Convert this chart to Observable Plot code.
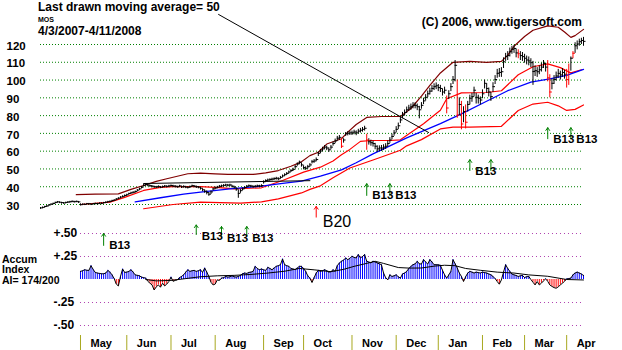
<!DOCTYPE html>
<html><head><meta charset="utf-8">
<script src="https://cdn.jsdelivr.net/npm/d3@7"></script>
<script src="https://cdn.jsdelivr.net/npm/@observablehq/plot@0.6"></script>
<style>
html,body{margin:0;padding:0;background:#fff;}
#wrap{position:relative;width:622px;height:350px;overflow:hidden;font-family:"Liberation Sans",Arial,sans-serif;font-weight:bold;color:#000;}
#wrap svg{position:absolute;left:0;top:0;}
.t{position:absolute;white-space:nowrap;}
</style></head><body>
<div id="wrap">
  <div class="t" style="left:38px;top:1px;font-size:12px;line-height:12px">Last drawn moving average= 50</div>
  <div class="t" style="left:38px;top:15.8px;font-size:7px;line-height:7px">MOS</div>
  <div class="t" style="left:38px;top:24.8px;font-size:12px;line-height:12px">4/3/2007-4/11/2008</div>
  <div class="t" style="right:40px;top:15.8px;font-size:12px;line-height:12px">(C) 2006, www.tigersoft.com</div>
  <div class="t" style="left:2px;top:253.5px;font-size:10.5px;line-height:10.5px">Accum</div>
  <div class="t" style="left:2px;top:264px;font-size:10.5px;line-height:10.5px">Index</div>
  <div class="t" style="left:2px;top:274.5px;font-size:10.5px;line-height:10.5px">AI= 174/200</div>
</div>
<script>
// ---------- axes / labels ----------
const monthNames = ["May","Jun","Jul","Aug","Sep","Oct","Nov","Dec","Jan","Feb","Mar","Apr"];
const monthStart = [19,41,62,83,106,125,148,169,189,210,230,250];
const priceTicks = [120,110,100,90,80,70,60,50,40,30];
const accTicks = [0.5,0.25,-0.25,-0.5];
const accTickLabels = ["+.50","+.25","-.25","-.50"];

// ---------- daily price bars (trading days 0..258) ----------
const close = [
 27.8,28.1,28.6,28.9,29.5,29.9,30.3,30.9,31.2,31.0,30.8,30.6,30.9,31.1,31.3,31.5,31.3,31.5,31.2,
 29.6,29.9,29.8,30.2,30.1,29.9,30.2,30.3,30.2,30.5,30.4,30.8,31.0,31.3,31.5,31.9,32.2,32.8,33.3,33.9,34.3,34.8,
 35.2,35.9,36.3,36.6,37.0,37.8,38.5,39.4,40.5,41.0,40.6,40.3,40.0,39.7,39.6,39.9,39.5,39.8,40.1,39.9,40.2,
 40.4,40.1,40.0,39.7,40.2,39.6,39.9,39.5,39.4,39.8,40.3,40.0,39.7,39.5,38.9,38.0,37.2,36.5,35.5,36.8,38.5,
 39.0,39.5,40.0,40.2,40.5,40.7,40.6,40.7,40.0,39.5,38.5,36.0,37.5,38.5,39.3,40.0,40.3,40.1,39.8,40.0,40.2,40.1,40.4,
 42.5,43.2,43.5,43.8,44.0,44.3,44.5,44.2,45.0,45.8,46.5,47.2,48.0,48.8,49.5,51.0,52.5,53.5,52.0,
 50.5,50.1,51.0,52.0,53.8,54.2,55.0,58.5,59.8,61.0,62.0,61.5,60.5,62.0,64.0,65.5,67.0,67.5,62.5,66.0,69.5,69.8,70.0,
 70.0,70.5,70.0,71.0,71.5,72.0,72.6,66.0,65.0,64.5,64.0,62.5,61.0,61.5,61.5,62.0,62.5,64.0,66.0,68.0,70.0,
 72.0,74.0,77.3,80.0,81.5,83.0,84.0,84.7,85.5,85.5,84.7,83.0,85.5,88.0,90.0,92.0,93.5,95.0,96.0,96.5,
 95.5,95.0,93.0,94.0,84.0,92.0,96.0,100.0,108.0,80.0,86.0,75.0,82.0,76.0,86.0,89.5,90.4,94.0,90.0,89.5,88.5,
 92.0,97.9,95.0,93.0,90.4,96.0,100.0,103.5,104.0,104.4,110.0,112.9,113.5,115.7,117.0,117.5,115.0,114.5,113.5,112.9,
 112.0,111.0,110.5,109.5,104.5,105.0,104.4,105.5,107.0,109.0,107.0,101.0,93.0,97.9,100.0,102.0,103.5,102.6,104.0,103.0,
 100.0,104.0,112.0,114.8,119.0,120.0,121.3,122.0,121.5
];
const high = [
 28.3,28.6,29.0,29.4,29.9,30.4,30.8,31.3,31.7,31.5,31.2,31.1,31.3,31.6,31.8,32.0,31.8,31.9,31.7,
 30.4,30.3,30.3,30.6,30.6,30.4,30.6,30.8,30.7,30.9,30.9,31.2,31.5,31.8,32.0,32.4,32.7,33.3,33.8,34.4,34.9,35.4,
 35.8,36.4,36.9,37.2,37.6,38.4,39.1,40.1,41.3,41.8,41.3,40.9,40.6,40.3,40.2,40.5,40.1,40.4,40.7,40.5,40.8,
 41.0,40.8,40.6,40.3,40.8,40.3,40.5,40.2,40.0,40.4,40.9,40.7,40.4,40.1,39.7,38.9,38.2,37.6,36.8,37.6,39.2,
 39.8,40.2,40.7,40.9,41.2,41.4,41.3,41.4,40.8,40.3,39.4,38.2,38.4,39.3,40.0,40.7,41.0,40.8,40.5,40.7,40.9,40.8,41.1,
 43.3,43.9,44.3,44.5,44.8,45.0,45.3,45.0,45.8,46.6,47.3,48.0,48.8,49.6,50.4,51.9,53.4,54.4,53.3,
 51.8,51.2,52.0,53.0,54.8,55.3,56.2,59.6,61.0,62.2,63.2,62.8,61.8,63.2,65.2,66.8,68.3,68.8,67.2,67.0,70.5,71.0,71.2,
 71.3,71.8,71.4,72.3,72.8,73.3,74.0,69.5,67.0,66.2,65.7,64.4,63.0,63.0,63.2,63.6,64.2,65.8,67.6,69.6,71.6,
 73.8,75.8,79.0,81.8,83.2,84.8,85.8,86.5,87.3,87.2,86.5,85.2,87.3,89.8,91.8,93.8,95.4,96.9,97.9,98.4,
 97.5,97.0,95.0,96.0,91.0,94.0,98.0,102.0,111.0,100.0,90.0,88.0,85.0,86.0,88.0,91.5,92.5,96.0,92.5,91.5,90.5,
 94.5,100.0,98.0,95.5,93.0,98.5,102.5,106.0,106.5,107.0,112.5,115.0,116.0,118.0,119.0,119.5,117.5,117.0,116.0,115.5,
 114.5,113.5,113.0,112.0,110.5,108.0,107.0,108.0,109.5,111.0,109.5,111.0,103.0,100.5,102.5,104.5,106.0,105.0,106.5,105.5,
 106.0,109.0,113.0,116.0,121.0,122.0,123.0,123.5,124.0
];
const low = [
 27.3,27.6,28.0,28.4,28.9,29.4,29.8,30.3,30.7,30.5,30.2,30.1,30.4,30.6,30.8,31.0,30.8,31.0,30.6,
 29.2,29.4,29.4,29.7,29.6,29.4,29.7,29.8,29.7,30.0,29.9,30.3,30.5,30.8,31.0,31.4,31.7,32.3,32.8,33.3,33.8,34.2,
 34.6,35.3,35.7,36.0,36.4,37.2,37.9,38.8,39.8,40.3,40.0,39.6,39.3,39.1,39.0,39.2,38.9,39.2,39.4,39.3,39.5,
 39.8,39.5,39.3,39.1,39.5,39.0,39.2,38.9,38.7,39.1,39.6,39.4,39.0,38.8,38.1,37.2,36.3,35.4,34.6,35.6,37.6,
 38.3,38.8,39.3,39.5,39.8,40.0,39.9,40.0,39.3,38.7,37.4,33.5,36.3,37.7,38.6,39.3,39.6,39.4,39.1,39.3,39.5,39.4,39.7,
 41.5,42.4,42.7,43.0,43.2,43.5,43.7,43.4,44.2,45.0,45.7,46.4,47.2,48.0,48.6,50.0,51.5,52.4,51.0,
 49.5,49.2,50.0,51.0,52.8,53.2,54.0,57.0,58.6,59.8,60.8,60.3,59.3,60.8,62.8,64.2,65.6,66.2,61.5,64.5,68.3,68.6,68.8,
 68.8,69.2,68.7,69.7,70.2,70.7,71.3,60.5,63.4,62.8,62.3,60.8,59.4,59.8,59.9,60.4,61.0,62.4,64.4,66.4,68.4,
 70.3,72.2,75.5,78.2,79.8,81.2,82.3,83.0,83.8,83.8,82.8,78.2,83.6,86.2,88.2,90.2,91.6,93.1,94.1,94.6,
 93.5,93.0,91.0,92.0,81.0,89.0,93.5,97.5,99.0,78.5,80.0,72.0,76.0,72.5,82.0,86.0,87.5,90.5,86.5,86.5,86.0,
 89.5,95.0,92.5,90.5,88.0,93.0,97.5,101.0,101.5,101.5,106.5,110.5,111.0,113.0,114.5,115.0,112.5,112.0,111.0,110.5,
 109.5,108.5,108.0,107.0,97.0,102.0,101.5,103.0,104.5,106.5,104.5,99.0,90.0,94.5,97.5,99.5,101.0,100.0,101.5,100.5,
 95.5,97.0,105.0,112.0,115.0,117.0,119.0,120.0,119.0
];
const redBars = [143,155,193,198,200,202,227,241,242,250,251,253];

// ---------- bands ----------
const muDays = [17,26,37,43,49,55,60,70,76,83,89,101,107,113,119,124,128,132,136,143,146,150,155,162,171,176,181,185,190,196,204,212,219,222,225,230,234,241,246,249,252,254,258];
const muVals = [35.5,35.8,36,38.5,40.7,43,44.5,47.3,47.6,47.2,46.9,46.9,47.8,49.1,51.5,54,57.5,59.4,64,67,70.7,75,79,79.5,79.5,84,91,97,104,110,110.5,110,110.5,114,119,124.5,128,130.5,129.7,127,124,125,128.5];
const ruDays = [19,33,40,49,57,63,76,85,92,105,115,125,133,139,143,147,152,157,166,171,182,190,193,200,212,219,227,234,241,247,252,257];
const ruVals = [30,31.3,34,37.9,39.6,40.1,40.1,39.5,38.8,39.4,43.5,48.2,51,54.5,58,61,65.5,66,66,66.4,75.4,83,89.5,92.8,93,94,103,107.5,109.1,107,104,105.8];
const blDays = [45,57,68,76,90,105,116,124,133,143,150,158,166,174,181,190,200,211,222,233,242,250,258];
const blVals = [31.5,33.8,35.8,37,38.8,40.3,42,43.2,46,49.5,53.5,58.5,63,67.5,71,75.5,81,87.5,94,98.8,100.7,102.6,106];
const rlDays = [49,63,76,95,105,113,119,124,128,133,139,147,158,171,174,181,190,196,204,219,227,234,241,246,250,254,258];
const rlVals = [27.6,30,31.3,30.8,31.5,33.2,35,36.5,38.5,40.5,45,50.5,55,60.5,63,66.5,72.5,73.5,73.5,74,82.9,86.5,87.5,85.5,82.9,83.5,86];
const resDays = [49,128];
const resVals = [41.8,43.4];
const noteDays = [84.6,184.4];
const noteVals = [136.9,70.5];

// ---------- signals ----------
const sigDays = [30,74,86,98,155,166,204,214,241,252];
const sigTips = [13.7,18.5,17.6,17.6,41.7,41.7,55.2,55.2,73.2,73.2];
const sigBases = [7,13.1,12.6,12.6,35.1,35.1,49.1,49.1,67,67];
const sigText = ["B13","B13","B13","B13","B13","B13","B13","","B13","B13"];
const b20Day = [131], b20Tip = [28.9], b20Base = [22.9], b20Text = ["B20"];

// ---------- accumulation index ----------
const accStart = 19;
const accum = [
 .088,.095,.106,.100,.099,.150,.110,.077,.070,.066,.062,.062,.070,.099,.080,.050,.010,-.050,-.070,.033,
 .114,.077,.080,.088,.106,.080,.050,.045,.040,.026,.020,.015,-.020,-.040,-.059,-.114,-.080,-.059,-.084,-.040,
 -.070,-.050,-.022,.026,-.020,-.010,-.004,.020,.033,.050,.080,.106,.088,.095,.099,.088,.095,.106,.077,.125,
 .080,.033,-.030,-.059,-.050,-.004,-.011,.015,.020,.033,.026,.030,.040,.030,.026,.033,.045,.062,.070,.066,
 .077,.080,.088,.143,.120,.106,.114,.105,.099,.132,.120,.106,.125,.143,.150,.161,.223,.161,.150,.143,
 .120,.114,.106,.125,.143,.143,.120,.088,.040,.015,-.033,.020,.070,.099,.088,.095,.106,.095,.080,.085,
 .106,.088,.150,.180,.198,.210,.234,.216,.230,.253,.240,.234,.271,.234,.250,.271,.198,.190,.180,.198,
 .190,.180,.170,.161,.070,.020,-.004,.051,.033,.040,.051,.030,.015,.060,.070,.088,.120,.143,.161,.170,
 .198,.170,.168,.216,.190,.168,.216,.190,.161,.161,.160,.154,.100,.051,.015,.050,.088,.216,.170,.125,
 .070,.033,-.022,.030,.070,.088,.080,.070,.080,.075,.070,.080,.075,.070,.060,.051,.033,.010,-.022,-.051,
 -.004,.080,.161,.120,.088,.059,.050,.044,.033,.040,.044,.022,.030,.033,.000,-.030,-.059,-.022,-.059,-.040,
 -.015,.007,-.020,-.059,-.075,-.088,-.095,-.080,-.059,-.040,-.020,.007,.010,.015,.051,.070,.080,.070,.059,.044
];
const maDays = [50,55,62,69,76,84,92,100,108,116,123,130,138,144,149,154,159,163,170,175,181,187,192,197,202,209,217,225,232,241,250,258];
const maVals = [0,-0.015,-0.01,0.01,0.03,0.04,0.045,0.055,0.07,0.09,0.12,0.105,0.085,0.11,0.143,0.17,0.198,0.175,0.13,0.124,0.125,0.145,0.155,0.15,0.12,0.1,0.08,0.07,0.05,0.035,0,-0.005];

// ---------- build tables ----------
const lastDay = close.length - 1;
const bars = close.map((c, i) => ({i, c, h: high[i], l: low[i], col: redBars.includes(i) ? "#ff0000" : "#000000"}));
const pts = (days, vals) => days.map((d, k) => ({d, v: vals[k]}));
const sigs = sigDays.map((d, k) => ({d, tip: sigTips[k], base: sigBases[k], t: sigText[k]}));
const b20 = b20Day.map((d, k) => ({d, tip: b20Tip[k], base: b20Base[k], t: b20Text[k]}));
const accData = accum.map((v, k) => ({i: accStart + k, v, col: v < 0 ? "#ff0000" : "#0000ff"}));

const font = "'Liberation Sans', Arial, sans-serif";
const common = {
  width: 622, height: 350, marginLeft: 40, marginRight: 39,
  x: {domain: [0, lastDay], axis: null},
  color: {type: "identity"},
  style: {background: "transparent", fontFamily: font, fontWeight: "bold", fontSize: "12px", overflow: "visible"}
};

const accPlot = Plot.plot({
  ...common,
  marginTop: 233, marginBottom: 25,
  y: {domain: [-0.5, 0.5], axis: null},
  marks: [
    Plot.ruleY(accTicks, {y: d => d, x1: accStart, x2: lastDay, stroke: "#b040b0", strokeDasharray: "1,3", strokeWidth: 1}),
    Plot.text(accTicks, {y: d => d, text: (d, i) => accTickLabels[i], frameAnchor: "left", dx: 13, textAnchor: "start", fontSize: 12, fill: "#000"}),
    Plot.ruleX(accData, {x: "i", y1: 0, y2: "v", stroke: "col", strokeWidth: 1}),
    Plot.line(accData, {x: "i", y: "v", stroke: "#000", strokeWidth: 1}),
    Plot.line(pts(maDays, maVals), {x: "d", y: "v", stroke: "#000", strokeWidth: 1}),
    Plot.ruleX(monthStart, {x: d => d, insetTop: 102, insetBottom: -25, stroke: "#a8a820", strokeWidth: 1}),
    Plot.text(monthStart, {x: d => d, text: (d, i) => monthNames[i], frameAnchor: "bottom", dx: 10, dy: 21, textAnchor: "start", fontSize: 11, fill: "#000"})
  ]
});

const pricePlot = Plot.plot({
  ...common,
  marginTop: 44, marginBottom: 146,
  y: {domain: [30, 120], axis: null},
  marks: [
    Plot.ruleY(priceTicks, {y: d => d, stroke: "#008000", strokeDasharray: "1,2", strokeWidth: 1}),
    Plot.text(priceTicks, {y: d => d, text: d => String(d), frameAnchor: "left", dx: -34, dy: 1.5, textAnchor: "start", fontSize: 11.5, fill: "#000"}),
    Plot.line(pts(muDays, muVals), {x: "d", y: "v", stroke: "#800000", strokeWidth: 1.2}),
    Plot.line(pts(ruDays, ruVals), {x: "d", y: "v", stroke: "#ff0000", strokeWidth: 1.2}),
    Plot.line(pts(blDays, blVals), {x: "d", y: "v", stroke: "#0000ff", strokeWidth: 1.3}),
    Plot.line(pts(rlDays, rlVals), {x: "d", y: "v", stroke: "#ff0000", strokeWidth: 1.2}),
    Plot.line(pts(resDays, resVals), {x: "d", y: "v", stroke: "#000", strokeWidth: 1}),
    Plot.ruleX(bars, {x: "i", y1: "l", y2: "h", stroke: "col", strokeWidth: 1}),
    Plot.rect(bars, {x1: "i", x2: "i", y1: "c", y2: "c", insetRight: -2.5, insetTop: -0.5, insetBottom: -0.5, fill: "col"}),
    Plot.line(pts(noteDays, noteVals), {x: "d", y: "v", stroke: "#000", strokeWidth: 1}),
    Plot.arrow(sigs, {x1: "d", x2: "d", y1: "base", y2: "tip", stroke: "#008000", strokeWidth: 1, headLength: 5, headAngle: 70}),
    Plot.text(sigs.filter(s => s.t), {x: "d", y: "tip", text: "t", dx: 5.5, dy: 11.5, textAnchor: "start", fontSize: 11.5, fill: "#000"}),
    Plot.arrow(b20, {x1: "d", x2: "d", y1: "base", y2: "tip", stroke: "#ff0000", strokeWidth: 1, headLength: 5, headAngle: 70}),
    Plot.text(b20, {x: "d", y: "tip", text: "t", dx: 6.5, dy: 15, textAnchor: "start", fontSize: 16, fontWeight: "normal", fill: "#000"})
  ]
});

const wrap = document.getElementById("wrap");
wrap.appendChild(accPlot);
wrap.appendChild(pricePlot);
</script>
</body></html>
